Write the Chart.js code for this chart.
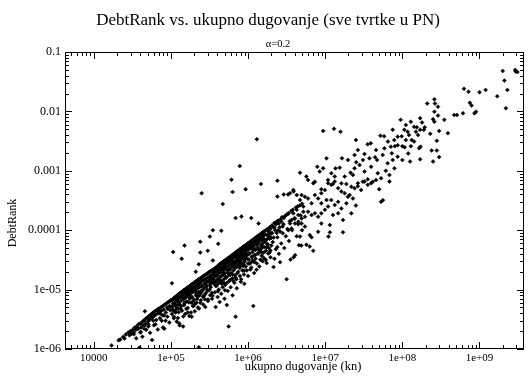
<!DOCTYPE html>
<html>
<head>
<meta charset="utf-8">
<script src="https://cdn.jsdelivr.net/npm/chart.js@4.4.1/dist/chart.umd.min.js"></script>
<style>
  html, body { margin: 0; padding: 0; background: #fff; }
  #graf { display: block; }
</style>
</head>
<body>
<canvas id="graf" width="528" height="377"></canvas>
<script>
// Tekstovi
const naslov = 'DebtRank vs. ukupno dugovanje (sve tvrtke u PN)';
const podnaslov = '\u03b1=0.2';
const nazivX = 'ukupno dugovanje (kn)';
const nazivY = 'DebtRank';

// Glavne oznake osi
const xGlavne = [1e4, 1e5, 1e6, 1e7, 1e8, 1e9];
const xOznake = ['10000', '1e+05', '1e+06', '1e+07', '1e+08', '1e+09'];
const yGlavne = [1e-6, 1e-5, 1e-4, 1e-3, 1e-2, 1e-1];
const yOznake = ['1e-06', '1e-05', '0.0001', '0.001', '0.01', '0.1'];
const xRaspon = [4236, 3.72e9];
const yRaspon = [1e-6, 1e-1];

// Tvrtke: [ukupno dugovanje (kn), DebtRank]
const pocetakPojasa = [
  [1.7e4,1.15e-6],[2.1e4,1.4e-6],[2.2e4,1.45e-6],[2.4e4,1.6e-6],[2.6e4,1.75e-6],[2.5e4,1.5e-6],
  [2.8e4,1.9e-6],[2.9e4,1.7e-6],[3.0e4,2.0e-6],[3.2e4,2.1e-6],[3.1e4,1.8e-6],[3.4e4,2.3e-6],
  [3.3e4,1.9e-6],[3.6e4,2.4e-6],[3.5e4,2.1e-6],[3.8e4,2.6e-6],[3.9e4,1.05e-6],[3.7e4,2.2e-6],
  [4.0e4,2.7e-6],[4.1e4,2.3e-6],[4.2e4,2.8e-6],[4.0e4,1.9e-6],[4.4e4,3.0e-6],[4.3e4,2.5e-6],
  [4.6e4,3.1e-6],[4.5e4,2.2e-6],[4.8e4,3.3e-6],[4.7e4,2.7e-6],[5.0e4,3.4e-6],[5.05e4,2.9e-6],
  [5.2e4,3.6e-6],[5.1e4,2.4e-6],[5.4e4,3.7e-6],[5.3e4,3.1e-6],[5.7e4,1.42e-6],[5.6e4,3.9e-6],
  [5.5e4,3.3e-6],[5.8e4,4.0e-6],[5.9e4,3.0e-6],[6.0e4,4.2e-6],[6.05e4,3.6e-6],[6.2e4,4.3e-6],
  [6.3e4,2.6e-6],[6.5e4,4.5e-6],[6.4e4,3.8e-6],[6.7e4,4.6e-6],[6.8e4,4.0e-6],[7.0e4,4.8e-6],
  [7.2e4,3.3e-6],[7.1e4,4.2e-6],[7.4e4,5.0e-6],[7.5e4,4.4e-6],[7.7e4,5.2e-6],[7.8e4,3.7e-6],
  [8.0e4,5.4e-6],[7.9e4,2.3e-6],[8.2e4,2.2e-6],[8.1e4,4.6e-6],[8.4e4,5.6e-6],[8.6e4,4.1e-6],
  [8.8e4,5.9e-6],[8.9e4,5.0e-6],[9.2e4,6.1e-6],[9.0e4,3.5e-6],[9.5e4,6.3e-6],[9.6e4,5.3e-6],
  [9.9e4,6.6e-6],[9.8e4,4.5e-6],
  [3.311e4,1.77e-6],[3.548e4,1.51e-6],[3.802e4,2.22e-6],[4.074e4,1.93e-6],[4.266e4,1.61e-6],
  [4.571e4,2.48e-6],[4.786e4,2.11e-6],[5.129e4,2.59e-6],[5.37e4,1.87e-6],[5.754e4,3.4e-6],
  [6.026e4,2.51e-6],[6.457e4,3.08e-6],[6.761e4,2.13e-6],[7.244e4,3.96e-6],[7.586e4,3.0e-6],
  [8.128e4,3.68e-6],[8.511e4,2.99e-6],[9.12e4,4.72e-6],[9.55e4,2.78e-6]
];

const gustiPojas = [
  [1.02e5,6.6e-6],[1.01e5,5.1e-6],[1.03e5,3.9e-6],[1.05e5,6.8e-6],[1.06e5,5.8e-6],
  [1.08e5,7.0e-6],[1.07e5,4.6e-6],[1.1e5,7.2e-6],[1.11e5,6.0e-6],[1.09e5,3.3e-6],
  [1.13e5,7.4e-6],[1.14e5,5.4e-6],[1.15e5,7.5e-6],[1.16e5,6.6e-6],[1.15e5,4.1e-6],
  [1.18e5,7.7e-6],[1.19e5,5.0e-6],[1.2e5,7.9e-6],[1.21e5,6.9e-6],[1.19e5,2.9e-6],
  [1.23e5,8.1e-6],[1.24e5,6.1e-6],[1.25e5,8.3e-6],[1.26e5,7.2e-6],[1.24e5,4.8e-6],
  [1.28e5,8.4e-6],[1.28e5,2.7e-6],[1.29e5,5.6e-6],[1.3e5,8.6e-6],[1.31e5,7.4e-6],
  [1.3e5,2.5e-6],[1.33e5,8.8e-6],[1.34e5,6.4e-6],[1.36e5,9.0e-6],[1.37e5,7.8e-6],
  [1.35e5,5.2e-6],[1.4e5,9.2e-6],[1.41e5,8.1e-6],[1.39e5,4.4e-6],[1.44e5,9.5e-6],
  [1.45e5,6.9e-6],[1.44e5,2.4e-6],[1.47e5,9.7e-6],[1.48e5,8.4e-6],[1.5e5,9.9e-6],
  [1.51e5,7.3e-6],[1.49e5,5.8e-6],[1.54e5,1.01e-5],[1.55e5,8.8e-6],[1.53e5,3.9e-6],
  [1.58e5,1.04e-5],[1.59e5,7.7e-6],[1.62e5,1.06e-5],[1.63e5,9.2e-6],[1.61e5,6.3e-6],
  [1.66e5,1.09e-5],[1.67e5,8.1e-6],[1.65e5,4.9e-6],[1.7e5,1.11e-5],[1.71e5,9.6e-6],
  [1.74e5,1.14e-5],[1.75e5,7.0e-6],[1.73e5,3.6e-6],[1.78e5,1.16e-5],[1.79e5,1.0e-5],
  [1.77e5,8.6e-6],[1.82e5,1.19e-5],[1.83e5,6.0e-6],[1.86e5,1.21e-5],[1.87e5,1.04e-5],
  [1.86e5,3.5e-6],[1.9e5,1.24e-5],[1.91e5,9.0e-6],[1.89e5,7.4e-6],[1.95e5,1.27e-5],
  [1.96e5,1.08e-5],[1.94e5,5.3e-6],[2.0e5,1.3e-5],[2.01e5,9.5e-6],[1.99e5,6.7e-6],
  [2.05e5,1.33e-5],[2.06e5,1.13e-5],[2.04e5,4.3e-6],[2.1e5,1.36e-5],[2.11e5,8.0e-6],
  [2.09e5,1.0e-5],[2.15e5,1.39e-5],[2.16e5,1.18e-5],[2.14e5,6.0e-6],[2.2e5,1.42e-5],
  [2.21e5,1.05e-5],[2.19e5,7.7e-6],[2.25e5,1.45e-5],[2.26e5,1.24e-5],[2.24e5,5.0e-6],
  [2.3e5,1.48e-5],[2.31e5,4.8e-6],[2.29e5,9.2e-6],[2.3e5,1.07e-6],[2.35e5,1.51e-5],
  [2.36e5,1.29e-5],[2.34e5,1.1e-5],[2.4e5,1.54e-5],[2.41e5,8.4e-6],[2.45e5,1.57e-5],
  [2.46e5,1.35e-5],[2.44e5,6.6e-6],[2.5e5,1.6e-5],[2.51e5,1.16e-5],[2.49e5,9.7e-6],
  [2.6e5,1.66e-5],[2.61e5,1.42e-5],[2.59e5,7.6e-6],[2.62e5,5.6e-6],[2.7e5,1.72e-5],
  [2.71e5,1.25e-5],[2.69e5,1.05e-5],[2.8e5,1.77e-5],[2.81e5,1.5e-5],[2.79e5,5.1e-6],
  [2.82e5,8.6e-6],[2.9e5,1.83e-5],[2.91e5,1.33e-5],[2.89e5,1.13e-5],[3.0e5,1.89e-5],
  [3.01e5,1.6e-5],[2.99e5,9.5e-6],[3.02e5,6.8e-6],[3.1e5,1.95e-5],[3.11e5,1.4e-5],
  [3.2e5,2.0e-5],[3.21e5,1.7e-5],[3.19e5,1.2e-5],[3.22e5,8.0e-6],
  [3.3e5,2.05e-5],[3.32e5,1.6e-5],[3.28e5,1.1e-5],[3.4e5,2.1e-5],[3.42e5,1.8e-5],
  [3.38e5,1.35e-5],[3.41e5,7.0e-6],[3.5e5,2.15e-5],[3.52e5,1.5e-5],[3.6e5,2.2e-5],
  [3.58e5,1.9e-5],[3.62e5,1.25e-5],[3.7e5,2.25e-5],[3.68e5,1.65e-5],[3.72e5,9.0e-6],
  [3.8e5,2.3e-5],[3.82e5,2.0e-5],[3.8e5,5.1e-6],[3.78e5,1.4e-5],[3.9e5,2.38e-5],
  [3.92e5,1.75e-5],[3.88e5,1.15e-5],[4.0e5,2.46e-5],[4.02e5,2.1e-5],[3.98e5,1.5e-5],
  [4.03e5,7.5e-6],[4.1e5,2.53e-5],[4.12e5,1.85e-5],[4.08e5,1.25e-5],[4.2e5,2.6e-5],
  [4.22e5,2.25e-5],[4.18e5,1.0e-5],[4.3e5,2.66e-5],[4.32e5,1.6e-5],[4.28e5,6.2e-6],
  [4.4e5,2.72e-5],[4.42e5,2.35e-5],[4.38e5,1.95e-5],[4.45e5,1.3e-5],[4.5e5,2.78e-5],
  [4.52e5,1.7e-5],[4.48e5,8.5e-6],[4.6e5,2.84e-5],[4.62e5,2.45e-5],[4.58e5,1.4e-5],
  [4.7e5,2.9e-5],[4.72e5,2.1e-5],[4.68e5,1.1e-5],[4.8e5,2.96e-5],[4.82e5,2.6e-5],
  [4.78e5,1.8e-5],[4.9e5,3.02e-5],[4.92e5,2.3e-5],[4.88e5,1.5e-5],[5.0e5,3.08e-5],
  [5.02e5,2.7e-5],[4.98e5,1.9e-5],[5.05e5,1.2e-5],[4.95e5,7.0e-6],[5.2e5,3.19e-5],
  [5.22e5,2.8e-5],[5.18e5,2.4e-5],[5.25e5,1.6e-5],[5.3e5,3.25e-5],[5.3e5,5.5e-6],
  [5.32e5,1.3e-5],[5.4e5,3.31e-5],[5.42e5,2.9e-5],[5.38e5,2.1e-5],[5.45e5,9.5e-6],
  [5.6e5,3.43e-5],[5.62e5,3.0e-5],[5.58e5,2.5e-5],[5.65e5,1.75e-5],[5.6e5,2.4e-6],
  [5.8e5,3.55e-5],[5.82e5,3.1e-5],[5.78e5,2.2e-5],[5.85e5,1.45e-5],[6.0e5,3.67e-5],
  [6.02e5,3.25e-5],[5.98e5,2.7e-5],[6.05e5,1.9e-5],[5.95e5,1.1e-5],[6.2e5,3.78e-5],
  [6.22e5,3.35e-5],[6.18e5,2.4e-5],[6.25e5,1.55e-5],[6.3e5,8.0e-6],[6.4e5,3.9e-5],
  [6.42e5,3.45e-5],[6.38e5,2.85e-5],[6.45e5,2.1e-5],[6.6e5,4.03e-5],[6.62e5,3.55e-5],
  [6.58e5,2.6e-5],[6.65e5,1.3e-5],[6.8e5,4.14e-5],[6.82e5,3.7e-5],[6.78e5,3.0e-5],
  [6.85e5,2.3e-5],[6.75e5,1.75e-5],[6.9e5,3.5e-6],[7.0e5,4.26e-5],[7.02e5,3.8e-5],
  [6.98e5,2.8e-5],[7.05e5,1.5e-5],[7.2e5,4.38e-5],[7.22e5,3.9e-5],[7.18e5,3.25e-5],
  [7.25e5,2.5e-5],[7.15e5,1.05e-5],[7.4e5,4.49e-5],[7.42e5,4.0e-5],[7.38e5,3.05e-5],
  [7.45e5,2.0e-5],[7.6e5,4.61e-5],[7.62e5,4.1e-5],[7.58e5,3.45e-5],[7.65e5,2.7e-5],
  [7.8e5,4.72e-5],[7.82e5,3.8e-5],[7.78e5,2.3e-5],[7.85e5,1.7e-5],[8.0e5,4.84e-5],
  [8.02e5,4.25e-5],[7.98e5,3.15e-5],[8.05e5,1.35e-5],[8.2e5,4.96e-5],[8.22e5,4.0e-5],
  [8.18e5,2.85e-5],[8.4e5,5.07e-5],[8.42e5,4.45e-5],[8.38e5,3.6e-5],[8.45e5,2.1e-5],
  [8.6e5,5.19e-5],[8.62e5,4.55e-5],[8.58e5,3.3e-5],[8.65e5,2.5e-5],[8.8e5,5.31e-5],
  [8.82e5,4.65e-5],[8.78e5,3.9e-5],[8.85e5,1.8e-5],[9.0e5,5.42e-5],[9.02e5,4.75e-5],
  [8.98e5,3.5e-5],[9.05e5,2.95e-5],[8.95e5,1.25e-5],[9.3e5,5.6e-5],[9.32e5,4.9e-5],
  [9.28e5,4.25e-5],[9.35e5,2.45e-5],[9.6e5,5.77e-5],[9.62e5,5.0e-5],[9.58e5,3.7e-5],
  [9.65e5,2.1e-5],[1.0e6,6.01e-5],[1.01e6,5.3e-5],[9.9e5,4.6e-5],[1.02e6,3.2e-5],
  [1.0e6,1.7e-5],[1.05e6,6.3e-5],[1.06e6,5.45e-5],[1.04e6,4.05e-5],[1.05e6,2.75e-5],
  [1.1e6,6.58e-5],[1.11e6,5.75e-5],[1.09e6,4.9e-5],[1.12e6,3.5e-5],[1.1e6,2.35e-5],
  [1.15e6,6.89e-5],[1.16e6,6.0e-5],[1.14e6,4.3e-5],[1.15e6,3.1e-5],[1.17e6,5.3e-6],
  [1.2e6,7.16e-5],[1.21e6,6.3e-5],[1.19e6,5.35e-5],[1.22e6,3.85e-5],[1.2e6,1.9e-5],
  [1.25e6,7.45e-5],[1.26e6,6.5e-5],[1.24e6,4.7e-5],[1.25e6,3.3e-5],[1.3e6,7.74e-5],
  [1.31e6,6.8e-5],[1.29e6,5.75e-5],[1.3e6,2.75e-5],[1.35e6,8.02e-5],[1.36e6,7.05e-5],
  [1.34e6,5.1e-5],[1.35e6,4.15e-5],[1.4e6,8.32e-5],[1.41e6,7.35e-5],[1.39e6,6.3e-5],
  [1.42e6,4.5e-5],[1.4e6,2.45e-5],[1.47e6,8.71e-5],[1.48e6,7.6e-5],[1.46e6,5.55e-5],
  [1.5e6,8.89e-5],[1.51e6,6.8e-5],[1.49e6,4.9e-5],[1.5e6,3.7e-5],[1.55e6,9.16e-5],
  [1.56e6,8.0e-5],[1.54e6,6.0e-5],[1.55e6,3.0e-5],[1.6e6,9.46e-5],[1.61e6,8.3e-5],
  [1.59e6,7.2e-5],[1.62e6,5.2e-5],[1.6e6,3.4e-5]
];

// Gusta masa tik ispod oštrog gornjeg ruba pojasa
const ispodRuba = [
  [1.047e5,5.15e-6],[1.096e5,3.48e-6],[1.148e5,4.48e-6],[1.202e5,6.61e-6],[1.23e5,3.31e-6],
  [1.288e5,5.61e-6],[1.349e5,4.67e-6],[1.413e5,7.21e-6],[1.445e5,3.53e-6],[1.514e5,6.12e-6],
  [1.585e5,4.74e-6],[1.622e5,8.63e-6],[1.698e5,6.1e-6],[1.778e5,8.02e-6],[1.82e5,4.11e-6],
  [1.905e5,6.21e-6],[1.995e5,9.84e-6],[2.042e5,5.65e-6],[2.138e5,8.55e-6],[2.239e5,1.23e-5],
  [2.291e5,7.78e-6],[2.399e5,6.03e-6],[2.512e5,1.15e-5],[2.57e5,9.53e-6],[2.692e5,7.91e-6],
  [2.818e5,1.44e-5],[2.884e5,1.17e-5],[3.02e5,6.41e-6],[3.162e5,9.91e-6],[3.236e5,1.5e-5],
  [3.388e5,8.81e-6],[3.548e5,1.33e-5],[3.631e5,2.01e-5],[3.802e5,1.16e-5],[3.981e5,1.71e-5],
  [4.074e5,9.38e-6],[4.266e5,1.45e-5],[4.467e5,2.19e-5],[4.571e5,1.26e-5],[4.786e5,1.91e-5],
  [5.012e5,9.75e-6],[5.129e5,1.66e-5],[5.37e5,2.81e-5],[5.623e5,1.37e-5],[5.754e5,2.17e-5],
  [6.026e5,2.67e-5],[6.31e5,1.8e-5],[6.457e5,1.4e-5],[6.761e5,2.37e-5],[7.079e5,3.5e-5],
  [7.244e5,1.88e-5],[7.586e5,3.04e-5],[7.943e5,2.47e-5],[8.128e5,1.49e-5],[8.511e5,3.9e-5],
  [8.913e5,2.09e-5],[9.12e5,3.24e-5],[9.55e5,5.01e-5],[1.0e6,2.75e-5],[1.023e6,3.97e-5],
  [1.072e6,2.18e-5],[1.122e6,3.61e-5],[1.148e6,5.33e-5],[1.202e6,2.92e-5],[1.259e6,4.74e-5],
  [1.288e6,2.16e-5],[1.349e6,4.03e-5],[1.413e6,6.98e-5],[1.445e6,3.19e-5],[1.514e6,5.41e-5],
  [1.585e6,4.19e-5],[1.622e6,6.95e-5],[1.698e6,3.17e-5],[1.778e6,5.75e-5],[1.862e6,8.71e-5],
  [1.95e6,4.56e-5],[1.995e6,7.4e-5],
  [1.072e5,4.39e-6],[1.175e5,5.51e-6],[1.259e5,4.16e-6],[1.38e5,7.91e-6],[1.479e5,5.46e-6],
  [1.549e5,7.36e-6],[1.66e5,4.13e-6],[1.738e5,7.33e-6],[1.862e5,9.42e-6],[1.95e5,5.28e-6],
  [2.089e5,9.16e-6],[2.188e5,6.93e-6],[2.344e5,1.12e-5],[2.455e5,8.91e-6],[2.63e5,1.48e-5],
  [2.754e5,6.89e-6],[2.951e5,9.93e-6],[3.09e5,1.37e-5],[3.311e5,1.27e-5],[3.467e5,7.85e-6],
  [3.715e5,1.75e-5],[3.89e5,1.39e-5],[4.169e5,2.15e-5],[4.365e5,1.35e-5],[4.677e5,2.14e-5],
  [4.898e5,1.29e-5],[5.248e5,2.23e-5],[5.495e5,1.9e-5],[5.888e5,1.77e-5],[6.166e5,3.06e-5],
  [6.607e5,2.85e-5],[6.918e5,1.6e-5],[7.413e5,3.49e-5],[7.762e5,2.65e-5],[8.318e5,3.4e-5],
  [8.71e5,2.64e-5],[9.333e5,4.07e-5],[9.772e5,3.3e-5],[1.047e6,4.99e-5],[1.096e6,2.87e-5],
  [1.175e6,4.74e-5],[1.23e6,3.77e-5],[1.318e6,5.82e-5],[1.38e6,4.72e-5],[1.479e6,4.3e-5],
  [1.549e6,8.0e-5],[1.66e6,6.49e-5],[1.738e6,5.14e-5],[1.82e6,4.07e-5],[1.905e6,7.94e-5]
];

const srednjiDio = [
  [1.66e6,9.8e-5],[1.66e6,6.3e-5],[1.7e6,4.5e-5],[1.74e6,2.8e-5],[1.78e6,1.05e-4],
  [1.82e6,7.9e-5],[1.86e6,5.0e-5],[1.91e6,1.12e-4],[1.95e6,3.5e-5],[2.0e6,8.9e-5],
  [2.04e6,1.2e-4],[2.09e6,6.3e-5],[2.14e6,2.4e-5],[2.19e6,1.32e-4],[2.24e6,1.0e-4],
  [2.29e6,4.8e-5],[2.34e6,1.38e-4],[2.4e6,7.6e-5],[2.45e6,1.45e-4],[2.51e6,4.0e-5],
  [2.57e6,1.12e-4],[2.63e6,1.51e-4],[2.69e6,6.0e-5],[2.75e6,1.66e-4],[2.82e6,8.9e-5],
  [2.88e6,1.26e-4],[2.95e6,5.0e-5],[3.02e6,1.74e-4],[3.09e6,7.9e-5],[3.16e6,1.5e-5],
  [3.16e6,1.82e-4],[3.24e6,1.05e-4],[3.31e6,1.9e-4],[3.39e6,6.6e-5],[3.47e6,1.41e-4],
  [3.55e6,3.2e-5],[3.63e6,2.1e-4],[3.72e6,1.0e-4],[3.8e6,2.2e-4],[3.89e6,3.5e-5],
  [3.98e6,1.58e-4],[4.07e6,3.8e-5],[4.17e6,2.4e-4],[4.27e6,7.9e-5],[4.37e6,2.5e-4],
  [4.47e6,1.26e-4],[4.57e6,5.6e-5],[4.68e6,2.6e-4],[4.79e6,1.78e-4],[4.9e6,5.5e-5],
  [5.01e6,2.8e-4],[5.01e6,1.0e-4],
  [1.7e6,8.5e-5],[1.75e6,7.0e-5],[1.8e6,5.8e-5],[1.85e6,9.5e-5],[1.9e6,7.2e-5],
  [1.95e6,1.05e-4],[2.0e6,5.5e-5],[2.05e6,9.0e-5],[2.1e6,1.15e-4],[2.15e6,7.5e-5],
  [2.2e6,1.1e-4],[2.3e6,1.25e-4],[2.35e6,9.0e-5],[2.45e6,1.0e-4],[2.5e6,1.3e-4],
  [2.6e6,9.5e-5],[2.7e6,1.4e-4],[2.8e6,1.15e-4],[2.9e6,1.6e-4],[1.9e6,4.2e-5],
  [2.2e6,3.3e-5],[2.6e6,2.9e-5],[2.4e6,5.2e-5],
  [3.5e6,4.2e-4],[3.86e6,4.75e-4],[4.27e6,3.9e-4],[4.94e6,3.9e-4],[5.46e6,3.66e-4],
  [4.71e6,3.22e-4],[6.0e6,3.43e-4],[6.65e6,2.83e-4],[7.35e6,3.9e-4],[8.1e6,3.43e-4],
  [8.9e6,4.2e-4],[9.9e6,4.75e-4],[1.09e7,6.2e-4],[1.2e7,5.8e-4],[1.33e7,6.6e-4],
  [1.47e7,5.1e-4],[1.62e7,4.5e-4],[1.79e7,4.2e-4],[1.97e7,3.66e-4],[2.07e7,3.9e-4],
  [2.29e7,3.43e-4],[2.5e7,2.6e-4],[1.2e7,3.22e-4],[1.33e7,2.65e-4],[1.47e7,3.0e-4],
  [1.62e7,2.33e-4],[1.09e7,2.5e-4],[9.9e6,2.2e-4],[8.9e6,1.92e-4],[8.1e6,1.69e-4],
  [7.35e6,1.92e-4],[6.65e6,1.8e-4],[6.0e6,2.05e-4],[5.46e6,1.69e-4],[4.94e6,1.58e-4],
  [4.48e6,1.39e-4],[4.06e6,1.3e-4],[3.67e6,1.49e-4],[3.33e6,1.92e-4],[3.33e6,1.0e-4],
  [3.67e6,1.07e-4],[4.71e6,7.8e-5],[6.3e6,8.3e-5],[6.65e6,7.6e-5],[8.1e6,9.4e-5],
  [1.15e7,1.22e-4],[1.7e7,1.49e-4],[1.7e7,9.2e-5],[1.15e7,9.2e-5],[1.1e7,7.8e-5],
  [7.0e6,4.5e-5],[6.3e6,5.3e-5],[5.7e6,5.7e-5],[2.65e7,6.2e-4],[3.23e7,6.6e-4],
  [3.94e7,6.2e-4],[5.0e7,4.9e-4],[5.3e7,3.0e-4],[5.6e7,3.2e-4],[6.8e7,6.6e-4],
  [2.92e7,4.75e-4],[3.56e7,5.8e-4],[2.4e7,5.1e-4],[8.9e6,2.83e-4],[1.04e7,3.22e-4],
  [5.2e6,2.5e-4],[4.27e6,2.2e-4],[1.88e7,2.83e-4],[1.47e7,1.92e-4],[1.26e7,1.8e-4],
  [2.18e7,1.92e-4],[8.9e6,1.3e-4],[3.86e6,1.92e-4],[4.48e6,1.8e-4],[5.2e6,2.05e-4],
  [4.06e6,1.58e-4],[3.5e6,1.3e-4],[5.46e6,1.15e-4],[4.94e6,1.3e-4],
  [4.71e6,9.3e-4],[5.7e6,8.0e-4],[6.0e6,7.0e-4],[7.0e6,6.15e-4],[7.35e6,6.56e-4],
  [8.5e6,9.7e-4],[7.9e6,1.17e-3],[9.4e6,1.1e-3],[8.9e6,4.9e-4],[1.26e7,6.0e-4],
  [1.36e7,1.1e-3],[1.54e7,1.13e-3],[1.65e7,1.62e-3],[1.62e7,6.15e-4],[1.88e7,6.0e-4],
  [2.18e7,5.4e-4],[2.65e7,5.5e-4],[3.08e7,6.56e-4],[3.56e7,7.2e-4],[4.13e7,6.56e-4],
  [4.56e7,7.0e-4],[5.3e7,7.5e-4],[6.1e7,1.0e-3],[6.8e7,8.5e-4],[7.9e7,1.1e-3],
  [1.0e8,1.52e-3],[8.7e7,1.73e-3],[7.3e7,1.97e-3],[2.65e7,2.24e-3],[3.23e7,1.92e-3],
  [4.56e7,2.24e-3],[4.43e7,1.69e-3],[5.85e7,2.39e-3],[5.56e7,1.85e-3],[4.7e7,1.52e-3],
  [3.74e7,1.62e-3],[3.08e7,1.52e-3],[2.52e7,1.39e-3],[2.79e7,1.25e-3],[2.4e7,1.1e-3],
  [2.13e7,9.3e-4],[2.29e7,8.5e-4],[1.04e7,1.62e-3],[1.79e7,8.0e-4],[2.4e7,1.85e-3],
  [1.97e7,1.52e-3],[1.09e7,7.0e-4],[1.33e7,8.0e-4],[1.2e7,9.1e-4],[3.94e7,1.17e-3],
  [3.23e7,9.7e-4],[4.8e7,9.1e-4],[6.45e7,1.34e-3],[7.5e7,1.52e-3]
];

const gornjiDio = [
  [2.0e9,4.8e-2],[2.9e9,5.0e-2],[3.1e9,4.6e-2],[2.95e9,4.7e-2],[2.1e9,3.3e-2],
  [2.3e9,2.3e-2],[1.7e9,1.8e-2],[2.2e9,1.13e-2],[1.2e9,2.3e-2],[1.0e9,2.1e-2],
  [7.2e8,2.15e-2],[6.3e8,2.4e-2],[7.5e8,1.4e-2],[7.9e8,1.26e-2],[9.0e8,9.9e-3],
  [8.6e8,9.3e-3],[6.1e8,9.3e-3],[5.1e8,8.7e-3],[4.7e8,8.7e-3],
  [2.1e8,1.36e-2],[2.6e8,1.6e-2],[2.65e8,1.36e-2],[2.9e8,1.2e-2],[2.6e8,9.9e-3],
  [2.9e8,8.5e-3],[3.5e8,7.2e-3],[2.5e8,7.4e-3],[2.6e8,6.7e-3],[1.8e8,6.5e-3],
  [1.95e8,5.4e-3],[1.9e8,4.9e-3],[2.3e8,4.2e-3],[3.9e8,4.3e-3],[3.0e8,4.7e-3],
  [2.8e8,3.2e-3],[2.4e8,2.2e-3],[2.8e8,2.2e-3],[3.0e8,1.7e-3],[2.5e8,1.43e-3],
  [1.7e8,1.56e-3],[9.5e7,7.2e-3],[1.29e8,6.7e-3],[1.7e8,7.7e-3],[1.54e8,5.4e-3],
  [1.7e8,4.9e-3],[1.6e8,4.0e-3],[1.5e8,4.55e-3],[1.17e8,4.55e-3],[9.8e7,3.8e-3],
  [1.32e8,3.3e-3],[1.42e8,3.1e-3],[1.29e8,2.6e-3],[1.07e8,2.5e-3],[8.7e7,2.7e-3],
  [7.5e7,4.9e-3],[5.8e7,3.8e-3],[5.2e7,3.9e-3],[6.5e7,3.1e-3],[7.1e7,2.55e-3],
  [8.0e7,2.6e-3],[1.0e8,2.6e-3],[1.19e8,1.96e-3],[1.26e8,1.43e-3],[1.65e8,2.4e-3],
  [1.72e8,2.55e-3],[2.5e7,3.3e-3],[3.55e7,2.8e-3],[3.9e7,2.9e-3],[1.11e8,3.3e-3],
  [1.22e8,4.0e-3],[1.06e8,4.9e-3],[1.42e8,5.5e-3],[8.7e7,3.76e-3],[7.85e7,3.3e-3],
  [1.11e8,5.9e-3]
];

const izdvojeneTocke = [
  [4.6e4,4.3e-6],[1.03e5,1.28e-5],[1.07e5,4.3e-5],[1.38e5,3.3e-5],[1.5e5,5.5e-5],
  [2.1e5,2.0e-5],[2.3e5,2.66e-5],[2.4e5,6.4e-5],[2.4e5,4.2e-5],[2.5e5,4.2e-4],
  [3.0e5,4.5e-5],[3.2e5,7.8e-5],[3.5e5,3.1e-5],[3.5e5,1.0e-4],[4.1e5,5.9e-5],
  [4.5e5,9.8e-5],[4.7e5,2.75e-4],[6.1e5,7.1e-4],[6.3e5,4.4e-4],[6.9e5,1.6e-4],
  [7.8e5,1.2e-3],[8.2e5,1.7e-4],[9.3e5,4.9e-4],[1.1e6,1.6e-4],[1.3e6,3.4e-3],
  [1.37e6,1.3e-4],[1.47e6,6.0e-4],[2.4e6,6.8e-4],[2.4e6,3.7e-4],[2.9e6,4.0e-4],
  [3.3e6,4.0e-4],[3.9e6,4.5e-4],[9.4e6,4.7e-3],[1.3e7,5.1e-3],[1.58e7,4.55e-3]
];

const sveTocke = [...pocetakPojasa, ...gustiPojas, ...ispodRuba, ...srednjiDio, ...gornjiDio, ...izdvojeneTocke]
  .map(([x, y]) => ({ x, y }));

const SERIF = '"Liberation Serif", "Times New Roman", serif';
const mnozitelji = [1, 2, 3, 4, 5, 6, 7, 8, 9];

// Vrijednosti crtica (glavne i sporedne) unutar raspona skale
function vrijednostiCrtica(glavne, min, max) {
  const out = [];
  [glavne[0] / 10, ...glavne].forEach(d => {
    mnozitelji.forEach(m => {
      const v = d * m;
      if (v >= min * 0.999 && v <= max * 1.001) out.push({ v, glavna: m === 1 });
    });
  });
  return out;
}

// Okvir s unutarnjim crticama na sve četiri strane te naslovi
const okvirIOznake = {
  id: 'okvirIOznake',
  afterDraw(chart) {
    const ctx = chart.ctx;
    const a = chart.chartArea;
    const sx = chart.scales.x;
    const sy = chart.scales.y;
    ctx.save();
    ctx.fillStyle = '#000';
    const L = Math.round(a.left), R = Math.round(a.right);
    const T = Math.round(a.top), B = Math.round(a.bottom);
    ctx.fillRect(L, T, R - L, 1);
    ctx.fillRect(L, B - 1, R - L, 1);
    ctx.fillRect(L, T, 1, B - T);
    ctx.fillRect(R - 1, T, 1, B - T);
    vrijednostiCrtica(xGlavne, xRaspon[0], xRaspon[1]).forEach(t => {
      const px = Math.round(sx.getPixelForValue(t.v));
      const l = t.glavna ? 7 : 4;
      ctx.fillRect(px, B - l, 1, l);
      ctx.fillRect(px, T, 1, l);
    });
    vrijednostiCrtica(yGlavne, yRaspon[0], yRaspon[1]).forEach(t => {
      const py = Math.round(sy.getPixelForValue(t.v));
      const l = t.glavna ? 7 : 4;
      ctx.fillRect(L, py, l, 1);
      ctx.fillRect(R - l, py, l, 1);
    });

    ctx.textAlign = 'center';
    ctx.textBaseline = 'alphabetic';
    ctx.font = '17px ' + SERIF;
    ctx.fillText(naslov, 268, 25);
    ctx.font = '10.5px ' + SERIF;
    ctx.fillText(podnaslov, 278, 47);
    ctx.font = '12.5px ' + SERIF;
    ctx.fillText(nazivX, 303, 370);
    ctx.translate(16, 223);
    ctx.rotate(-Math.PI / 2);
    ctx.font = '12px ' + SERIF;
    ctx.fillText(nazivY, 0, 0);
    ctx.restore();
  }
};

new Chart(document.getElementById('graf'), {
  type: 'scatter',
  data: {
    datasets: [{
      data: sveTocke,
      pointStyle: 'rectRot',
      pointRadius: 2,
      pointBackgroundColor: '#000',
      pointBorderColor: '#000',
      pointBorderWidth: 0.5
    }]
  },
  options: {
    responsive: false,
    animation: false,
    devicePixelRatio: 1,
    layout: { padding: { top: 52, right: 1, bottom: 0, left: 0 } },
    plugins: { legend: { display: false }, tooltip: { enabled: false }, title: { display: false } },
    scales: {
      x: {
        type: 'logarithmic',
        min: xRaspon[0],
        max: xRaspon[1],
        grid: { display: false, drawTicks: false },
        border: { display: false },
        afterBuildTicks: s => { s.ticks = xGlavne.map(v => ({ value: v, major: true })); },
        afterFit: s => { s.height = 28; s.paddingLeft = 0; s.paddingRight = 0; },
        ticks: {
          autoSkip: false,
          maxRotation: 0,
          padding: 3,
          color: '#000',
          font: { family: SERIF, size: 11 },
          callback: (v, i) => xOznake[i]
        }
      },
      y: {
        type: 'logarithmic',
        min: yRaspon[0],
        max: yRaspon[1],
        grid: { display: false, drawTicks: false },
        border: { display: false },
        afterBuildTicks: s => { s.ticks = yGlavne.map(v => ({ value: v, major: true })); },
        afterFit: s => { s.width = 65; s.paddingTop = 0; s.paddingBottom = 0; },
        ticks: {
          autoSkip: false,
          padding: 4,
          color: '#000',
          font: { family: SERIF, size: 12 },
          callback: (v, i) => yOznake[i]
        }
      }
    }
  },
  plugins: [okvirIOznake]
});
</script>
</body>
</html>
